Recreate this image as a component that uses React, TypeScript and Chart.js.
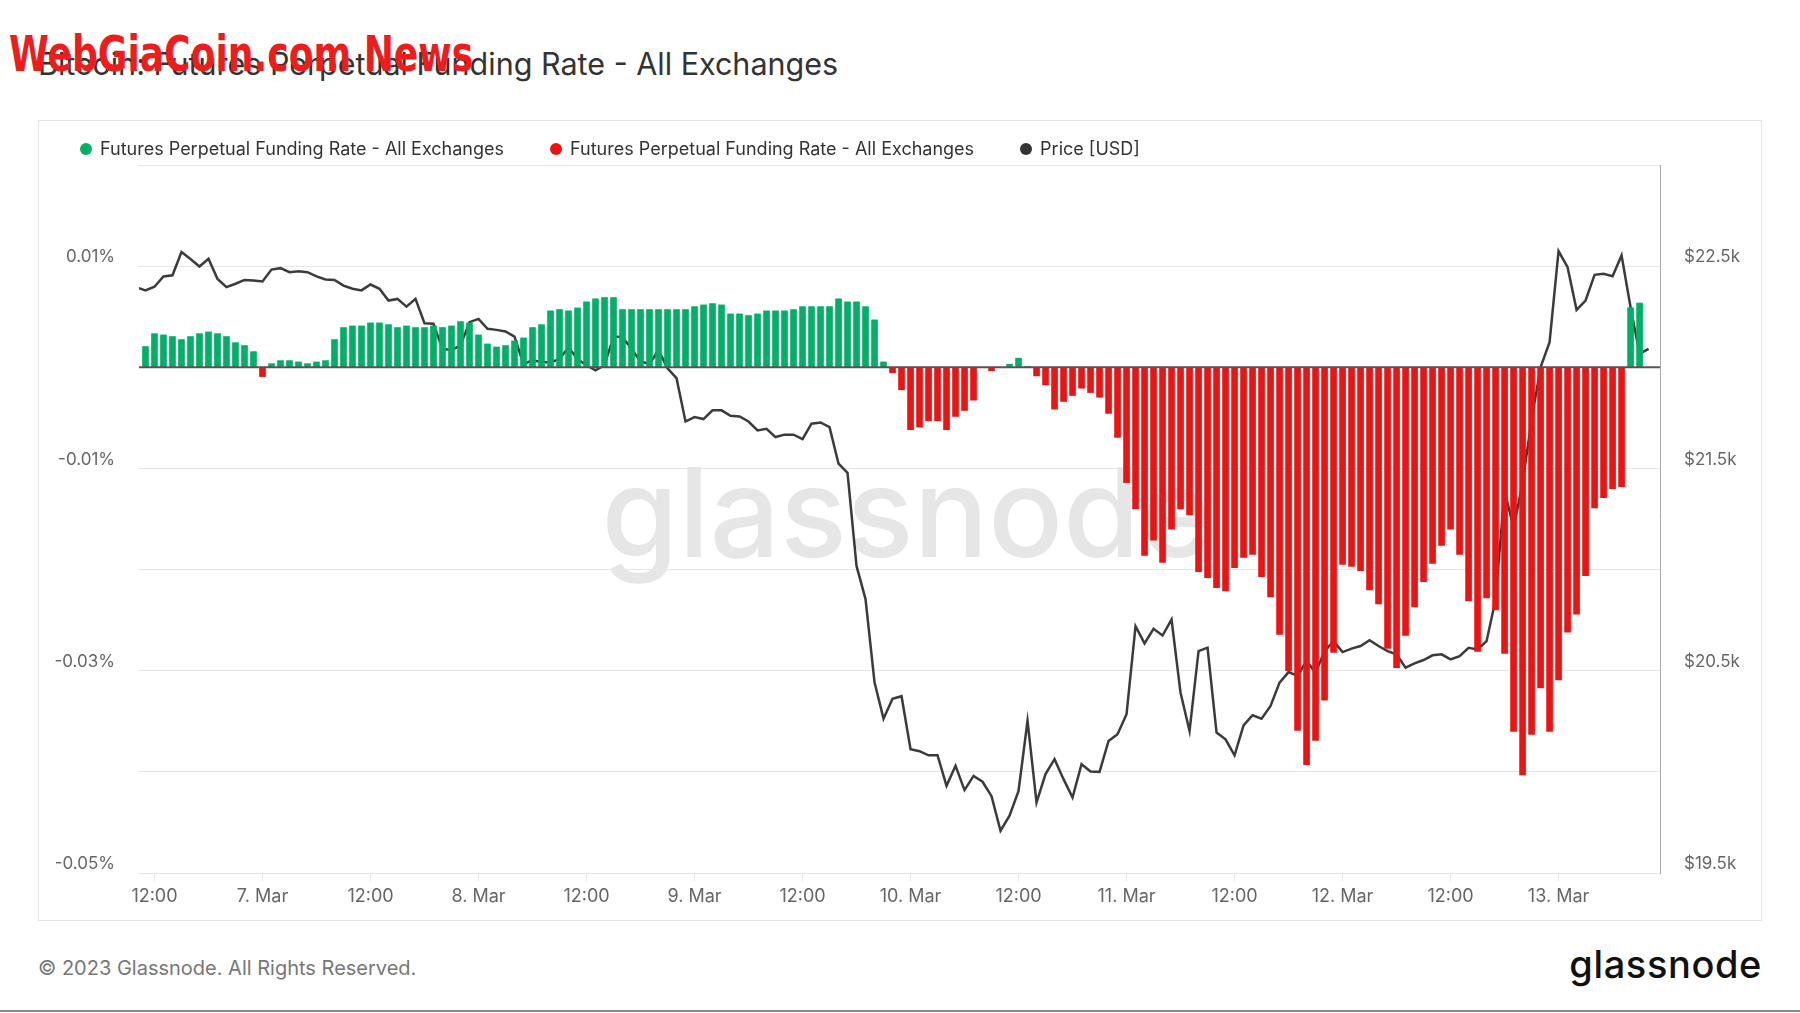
import React, { useEffect, useLayoutEffect, useRef } from "react";
import { Chart, registerables } from "chart.js";

Chart.register(...registerables);

// Hours counted from 6 Mar 2023 00:00
const FIRST_RATE_HOUR = 11;
const FIRST_PRICE_HOUR = 10;
const X_MIN = 10.28;
const X_MAX = 179.27;

// Hourly funding rate, in percent (h11 .. h177)
const fundingRate = [
  0.00205, 0.00333, 0.0032, 0.00304, 0.00274, 0.00304, 0.00333, 0.0035, 0.00333, 0.00304,
  0.00244, 0.00215, 0.00155, -0.00092, 0.00036, 0.00066, 0.00066, 0.00053, 0.00036, 0.00053,
  0.00066, 0.00274, 0.00393, 0.00409, 0.00409, 0.00439, 0.00439, 0.00422, 0.00393, 0.00409,
  0.00393, 0.00393, 0.00409, 0.00393, 0.00409, 0.00452, 0.00439, 0.0032, 0.00231, 0.00201,
  0.00215, 0.00261, 0.0029, 0.00393, 0.00422, 0.00558, 0.00571, 0.00558, 0.00587, 0.00647,
  0.00677, 0.0069, 0.0069, 0.00571, 0.00571, 0.00571, 0.00571, 0.00571, 0.00571, 0.00571,
  0.00571, 0.006, 0.00617, 0.0063, 0.00617, 0.00528, 0.00528, 0.00512, 0.00528, 0.00558,
  0.00558, 0.00558, 0.00571, 0.006, 0.006, 0.006, 0.006, 0.00677, 0.00647, 0.00647,
  0.006, 0.00469, 0.00053, -0.00053, -0.00223, -0.00617, -0.00591, -0.00529, -0.00529, -0.00617,
  -0.00486, -0.00427, -0.00325, 0, -0.00035, 0, 0.0003, 0.0009, 0.0001, -0.00085,
  -0.00174, -0.00414, -0.00338, -0.00279, -0.00207, -0.0025, -0.00296, -0.00456, -0.00693, -0.0114,
  -0.014, -0.0186, -0.0171, -0.0193, -0.016, -0.014, -0.0146, -0.0202, -0.0208, -0.0218,
  -0.0221, -0.0198, -0.0188, -0.0185, -0.0207, -0.0227, -0.0264, -0.03, -0.0359, -0.0393,
  -0.0369, -0.0329, -0.0282, -0.0195, -0.0197, -0.0201, -0.022, -0.0234, -0.0278, -0.0297,
  -0.0265, -0.0237, -0.0212, -0.0194, -0.0176, -0.016, -0.0185, -0.0231, -0.0281, -0.0228,
  -0.024, -0.0283, -0.036, -0.0403, -0.0363, -0.0317, -0.036, -0.0309, -0.0262, -0.0244,
  -0.0206, -0.0139, -0.0129, -0.012, -0.0118, 0.00589, 0.00635,
];

// Hourly BTC price in USD (h10 .. h178)
const priceUSD = [
  22395, 22380, 22398, 22449, 22455, 22570, 22535, 22498, 22536, 22437,
  22396, 22413, 22432, 22429, 22424, 22483, 22490, 22470, 22475, 22470,
  22449, 22434, 22432, 22404, 22388, 22380, 22409, 22388, 22330, 22338,
  22300, 22338, 22218, 22215, 22091, 22086, 22107, 22223, 22239, 22190,
  22185, 22177, 22152, 22016, 22036, 22025, 22025, 22040, 22100, 22040,
  22010, 21985, 22010, 22152, 22150, 22091, 22030, 22015, 22085, 21995,
  21946, 21732, 21754, 21744, 21787, 21787, 21760, 21757, 21732, 21688,
  21696, 21655, 21667, 21667, 21645, 21721, 21727, 21704, 21524, 21478,
  21018, 20854, 20443, 20263, 20361, 20374, 20112, 20102, 20082, 20082,
  19931, 20030, 19910, 19980, 19951, 19880, 19709, 19783, 19906, 20252,
  19849, 19989, 20063, 19964, 19873, 20038, 20002, 20000, 20153, 20186,
  20285, 20720, 20635, 20707, 20674, 20753, 20391, 20202, 20597, 20614,
  20194, 20161, 20082, 20230, 20280, 20263, 20326, 20441, 20493, 20474,
  20548, 20490, 20597, 20646, 20592, 20609, 20622, 20651, 20622, 20597,
  20581, 20515, 20536, 20553, 20576, 20581, 20556, 20572, 20613, 20605,
  20646, 20852, 21390, 21206, 21428, 21740, 22000, 22124, 22574, 22495,
  22284, 22330, 22457, 22462, 22450, 22553, 22297, 22066, 22091,
];

const xTickHours = [12, 24, 36, 48, 60, 72, 84, 96, 108, 120, 132, 144, 156, 168];
const xTickLabels = [
  "12:00", "7. Mar", "12:00", "8. Mar", "12:00", "9. Mar", "12:00",
  "10. Mar", "12:00", "11. Mar", "12:00", "12. Mar", "12:00", "13. Mar",
];
const rateTicks = [-0.05, -0.04, -0.03, -0.02, -0.01, 0, 0.01, 0.02];
const rateTickLabels = ["-0.05%", "", "-0.03%", "", "-0.01%", "", "0.01%", ""];
const priceTicks = [19500, 20000, 20500, 21000, 21500, 22000, 22500, 23000];
const priceTickLabels = ["$19.5k", "", "$20.5k", "", "$21.5k", "", "$22.5k", ""];

const SERIES_NAME = "Futures Perpetual Funding Rate - All Exchanges";
const GREEN = "#00b066";
const RED = "#ee1313";
const PRICE_COLOR = "#3b3b3b";
const TICK_COLOR = "#666666";
const GRID_COLOR = "#e6e6e6";

const watermarkPlugin = {
  id: "glassnodeWatermark",
  beforeDatasetsDraw(chart: any) {
    const { ctx, chartArea } = chart;
    ctx.save();
    ctx.font = "500 124px Inter, sans-serif";
    ctx.fillStyle = "#e6e6e6";
    ctx.textAlign = "center";
    ctx.textBaseline = "alphabetic";
    ctx.fillText(
      "glassnode",
      chartArea.left + (chartArea.right - chartArea.left) * 0.505,
      chartArea.top + (chartArea.bottom - chartArea.top) * 0.553
    );
    ctx.restore();
  },
};

const zeroLinePlugin = {
  id: "zeroLine",
  afterDatasetsDraw(chart: any) {
    const { ctx, chartArea, scales } = chart;
    const y = scales.y.getPixelForValue(0);
    ctx.save();
    ctx.strokeStyle = "#555555";
    ctx.lineWidth = 2;
    ctx.beginPath();
    ctx.moveTo(chartArea.left, y);
    ctx.lineTo(chartArea.right, y);
    ctx.stroke();
    ctx.restore();
  },
};

export default function App() {
  const canvasRef = useRef<HTMLCanvasElement>(null);
  const wmRef = useRef<HTMLSpanElement>(null);

  useLayoutEffect(() => {
    const el = wmRef.current;
    if (el) {
      const w = el.offsetWidth;
      if (w > 0) el.style.transform = `scaleX(${464 / w})`;
    }
  }, []);

  useEffect(() => {
    if (!canvasRef.current) return;
    Chart.defaults.font.family = "Inter, sans-serif";
    const positive = fundingRate.map((v, i) => ({ x: FIRST_RATE_HOUR + i, y: v > 0 ? v : null }));
    const negative = fundingRate.map((v, i) => ({ x: FIRST_RATE_HOUR + i, y: v < 0 ? v : null }));
    const price = priceUSD.map((v, i) => ({ x: FIRST_PRICE_HOUR + i, y: v }));

    const chart = new Chart(canvasRef.current, {
      type: "bar",
      data: {
        datasets: [
          {
            type: "bar",
            label: SERIES_NAME,
            data: positive as any,
            backgroundColor: GREEN,
            barThickness: 6,
            grouped: false,
            yAxisID: "y",
            order: 1,
          } as any,
          {
            type: "bar",
            label: SERIES_NAME,
            data: negative as any,
            backgroundColor: RED,
            barThickness: 6,
            grouped: false,
            yAxisID: "y",
            order: 1,
          } as any,
          {
            type: "line",
            label: "Price [USD]",
            data: price as any,
            borderColor: PRICE_COLOR,
            borderWidth: 2.5,
            pointRadius: 0,
            tension: 0,
            yAxisID: "y1",
            order: 2,
          } as any,
        ],
      },
      options: {
        animation: false,
        responsive: true,
        maintainAspectRatio: false,
        events: [],
        layout: { padding: { top: 44, left: 0, right: 0, bottom: 0 } },
        plugins: {
          legend: { display: false },
          tooltip: { enabled: false },
        },
        scales: {
          x: {
            type: "linear",
            min: X_MIN,
            max: X_MAX,
            offset: false,
            afterBuildTicks: (s: any) => {
              s.ticks = xTickHours.map((v) => ({ value: v }));
            },
            afterFit: (s: any) => {
              s.height = 47;
            },
            ticks: {
              autoSkip: false,
              maxRotation: 0,
              padding: 5,
              color: TICK_COLOR,
              font: { size: 18, family: "Inter, sans-serif" },
              callback: (_v: any, i: number) => xTickLabels[i],
            },
            grid: {
              offset: false,
              drawOnChartArea: false,
              drawTicks: true,
              tickLength: 8,
              color: GRID_COLOR,
            },
            border: { display: false },
          },
          y: {
            type: "linear",
            position: "left",
            min: -0.05,
            max: 0.02,
            afterBuildTicks: (s: any) => {
              s.ticks = rateTicks.map((v) => ({ value: v }));
            },
            afterFit: (s: any) => {
              s.width = 100;
            },
            ticks: {
              padding: 24,
              labelOffset: -9,
              color: TICK_COLOR,
              font: { size: 17, family: "Inter, sans-serif" },
              callback: (_v: any, i: number) => rateTickLabels[i],
            },
            grid: { color: GRID_COLOR, drawTicks: false, lineWidth: 1 },
            border: { display: false },
          },
          y1: {
            type: "linear",
            position: "right",
            min: 19500,
            max: 23000,
            afterBuildTicks: (s: any) => {
              s.ticks = priceTicks.map((v) => ({ value: v }));
            },
            afterFit: (s: any) => {
              s.width = 101;
            },
            ticks: {
              padding: 24,
              labelOffset: -9,
              color: TICK_COLOR,
              font: { size: 17, family: "Inter, sans-serif" },
              callback: (_v: any, i: number) => priceTickLabels[i],
            },
            grid: { display: false, drawTicks: false },
            border: { display: true, color: "#a8a8a8", width: 1 },
          },
        },
      } as any,
      plugins: [watermarkPlugin, zeroLinePlugin],
    });
    return () => chart.destroy();
  }, []);

  const legendItems = [
    { color: GREEN, label: SERIES_NAME },
    { color: RED, label: SERIES_NAME },
    { color: "#333333", label: "Price [USD]" },
  ];

  return (
    <div
      style={{
        position: "absolute",
        left: 0,
        top: 0,
        width: 1800,
        height: 1013,
        background: "#ffffff",
        overflow: "hidden",
        fontFamily: "Inter, sans-serif",
      }}
    >
      <div
        style={{
          position: "absolute",
          left: 38,
          top: 45,
          fontSize: 30.5,
          lineHeight: "38px",
          color: "#333333",
          whiteSpace: "nowrap",
        }}
      >
        Bitcoin: Futures Perpetual Funding Rate - All Exchanges
      </div>

      <div
        style={{
          position: "absolute",
          left: 38,
          top: 120,
          width: 1722,
          height: 799,
          border: "1px solid #e4e4e4",
        }}
      >
        <div style={{ position: "absolute", left: 0, top: 0, width: 1722, height: 799 }}>
          <canvas ref={canvasRef} />
        </div>
        <div
          style={{
            position: "absolute",
            left: 41,
            top: 17,
            display: "flex",
            alignItems: "center",
            gap: 46,
            fontSize: 18,
            lineHeight: "22px",
            color: "#333333",
            whiteSpace: "nowrap",
          }}
        >
          {legendItems.map((it, i) => (
            <div key={i} style={{ display: "flex", alignItems: "center" }}>
              <span
                style={{
                  display: "inline-block",
                  width: 12,
                  height: 12,
                  borderRadius: 6,
                  background: it.color,
                  marginRight: 8,
                }}
              />
              <span>{it.label}</span>
            </div>
          ))}
        </div>
      </div>

      <div
        style={{
          position: "absolute",
          left: 38,
          top: 955,
          fontSize: 20,
          lineHeight: "26px",
          color: "#777777",
          whiteSpace: "nowrap",
        }}
      >
        © 2023 Glassnode. All Rights Reserved.
      </div>

      <div
        style={{
          position: "absolute",
          right: 38,
          top: 941,
          fontSize: 38,
          lineHeight: "46px",
          fontWeight: 500,
          color: "#111111",
          letterSpacing: 0.6,
          whiteSpace: "nowrap",
        }}
      >
        glassnode
      </div>

      <div
        style={{
          position: "absolute",
          left: 0,
          top: 1010,
          width: 1800,
          height: 2,
          background: "#8a8a8a",
        }}
      />

      <div style={{ position: "absolute", left: 9, top: 29, whiteSpace: "nowrap" }}>
        <span
          ref={wmRef}
          style={{
            display: "inline-block",
            transformOrigin: "left top",
            fontFamily: '"Liberation Sans Narrow", "DejaVu Sans Condensed", "DejaVu Sans", sans-serif',
            fontWeight: 700,
            fontSize: 50,
            lineHeight: "50px",
            color: "#ee1c1c",
          }}
        >
          WebGiaCoin.com News
        </span>
      </div>
    </div>
  );
}
